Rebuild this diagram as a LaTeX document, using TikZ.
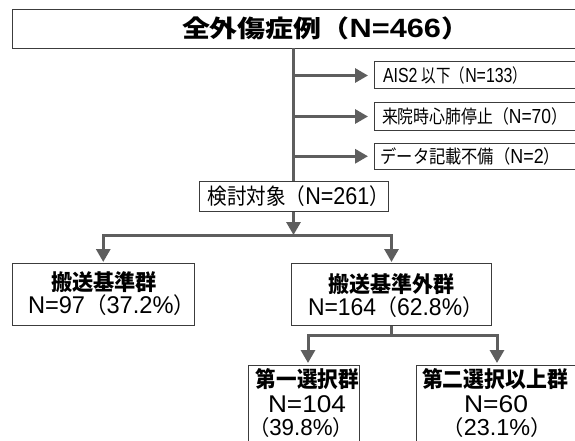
\documentclass[tikz,border=0pt]{standalone}
\usepackage{fontspec}
\usepackage{graphicx}
\setmainfont{Liberation Sans}[Scale=1.1]
\newfontfamily\jpf{Noto Sans CJK JP}
\usetikzlibrary{arrows.meta}
\newcommand\J[1]{{\jpf #1}}
\newcommand\fitw[2]{\resizebox{#1pt}{\height}{#2}}
\newcommand\fs[1]{\fontsize{#1}{#1}\selectfont}
\definecolor{lc}{HTML}{5E5E5E}
\definecolor{bc}{HTML}{3C3C3C}
\begin{document}
\begin{tikzpicture}[x=1pt,y=-1pt,
 box/.style={draw=bc, line width=1pt, inner sep=0pt, outer sep=0pt, rectangle, anchor=north west},
 lbl/.style={inner sep=0pt, outer sep=0pt, text=black},
 conn/.style={draw=lc, line width=3pt},
 arr/.style={conn, -{Triangle[length=13pt,width=14pt]}}]
\useasboundingbox (0,0) rectangle (575,441);
\clip (0,0) rectangle (575,441);
% boxes
\node[box, minimum width=614.5pt, minimum height=39pt] (top) at (12.5,9.5) {};
\node[box, minimum width=260pt, minimum height=27pt] (s1) at (374,62) {};
\node[box, minimum width=260pt, minimum height=27pt] (s2) at (374,103) {};
\node[box, minimum width=260pt, minimum height=26.5pt] (s3) at (374,143) {};
\node[box, minimum width=189pt, minimum height=30.5pt] (tgt) at (199,181) {};
\node[box, minimum width=181.5pt, minimum height=62pt] (A) at (12.5,263.5) {};
\node[box, minimum width=200pt, minimum height=62pt] (B) at (291.5,263.5) {};
\node[box, minimum width=111.5pt, minimum height=110pt] (C) at (248,365) {};
\node[box, minimum width=170pt, minimum height=110pt] (D) at (416,365) {};
% labels
\node[lbl, anchor=west] (ttl) at (182,28.5) {\fs{24}\bfseries\fitw{287}{\J{全外傷症例（}N=466\J{）}}};
\node[lbl, anchor=west] (s1t) at (383,75.5) {\fs{18.5}\fitw{144}{AIS2 \J{以下（}N=133\J{）}}};
\node[lbl, anchor=west] (s2t) at (382,116.5) {\fs{18.5}\fitw{185}{\J{来院時心肺停止（}N=70\J{）}}};
\node[lbl, anchor=west] (s3t) at (380.5,156) {\fs{18.5}\fitw{179.5}{\J{データ記載不備（}N=2\J{）}}};
\node[lbl, anchor=west] (tgtt) at (207.5,196.5) {\fs{22}\fitw{181.5}{\J{検討対象（}N=261\J{）}}};
\node[lbl, anchor=west] (At1) at (51,282.5) {\fs{22}\bfseries\fitw{106}{\J{搬送基準群}}};
\node[lbl, anchor=west] (At2) at (28,305.5) {\fs{22}\fitw{167}{N=97\J{（}37.2\%\J{）}}};
\node[lbl, anchor=west] (Bt1) at (328.5,284.5) {\fs{22}\bfseries\fitw{126}{\J{搬送基準外群}}};
\node[lbl, anchor=west] (Bt2) at (308,307.5) {\fs{22}\fitw{175}{N=164\J{（}62.8\%\J{）}}};
\node[lbl] (Ct1) at (307.3,379) {\fs{22}\bfseries\fitw{103}{\J{第一選択群}}};
\node[lbl] (Ct2) at (307,404) {\fs{22}\fitw{78}{N=104}};
\node[lbl] (Ct3) at (301,427.5) {\fs{21}\fitw{104}{\J{（}39.8\%\J{）}}};
\node[lbl] (Dt1) at (495,379) {\fs{22}\bfseries\fitw{146}{\J{第二選択以上群}}};
\node[lbl] (Dt2) at (496,404) {\fs{22}\fitw{64}{N=60}};
\node[lbl] (Dt3) at (497,427.5) {\fs{21}\fitw{109}{\J{（}23.1\%\J{）}}};
% connectors
\draw[conn] (top.south -| tgt.north) -- (tgt.north);
\draw[arr, shorten >=6pt] (tgt.north |- s1.west) -- (s1.west);
\draw[arr, shorten >=6pt] (tgt.north |- s2.west) -- (s2.west);
\draw[arr, shorten >=6pt] (tgt.north |- s3.west) -- (s3.west);
\coordinate (j1) at (293.5,235);
\draw[arr] (tgt.south) -- (j1);
\draw[arr, shorten >=1.5pt] (j1) -| (A.north);
\draw[arr, shorten >=1.5pt] (j1) -| (B.north);
\coordinate (j2) at (391.5,335);
\coordinate (cl) at (308,365);
\coordinate (cr) at (497,365);
\draw[conn] (B.south) -- (j2);
\draw[arr, shorten >=2pt] (j2) -| (cl);
\draw[arr, shorten >=2pt] (j2) -| (cr);
\end{tikzpicture}
\end{document}
